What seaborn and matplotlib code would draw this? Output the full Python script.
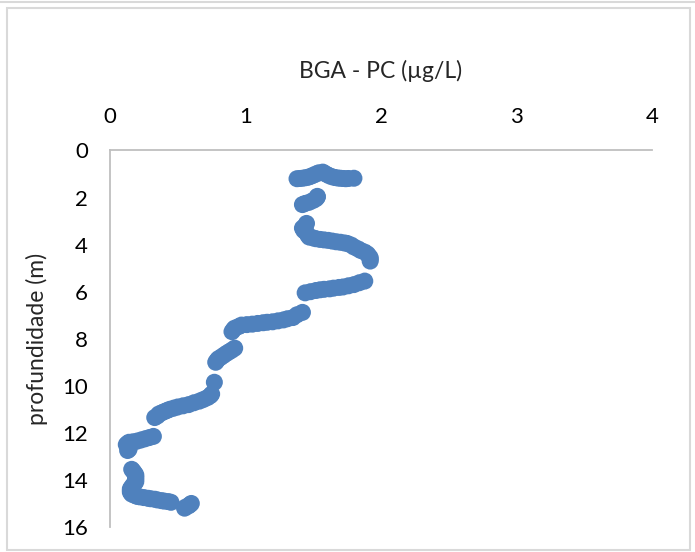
import matplotlib
matplotlib.use("Agg")
import matplotlib.pyplot as plt
import seaborn as sns
import pandas as pd
from matplotlib.patches import Rectangle
from matplotlib.lines import Line2D

# Phycocyanin (BGA-PC) profile, µg/L, against depth in metres
depth_m = [
    1.20, 1.19, 1.18, 1.16, 1.14, 1.10, 1.05, 1.00, 0.95, 0.92, 0.96, 1.02,
    1.08, 1.12, 1.15, 1.17, 1.18, 1.19, 1.20, 1.19, 1.18,
    2.30, 2.25, 2.20, 2.12, 2.05, 1.98, 1.95,
    3.10, 3.20, 3.30, 3.40, 3.50, 3.60, 3.68, 3.72, 3.75, 3.78, 3.80, 3.82,
    3.85, 3.88, 3.90, 3.93, 3.95, 4.02, 4.10, 4.18, 4.25, 4.32, 4.40, 4.48,
    4.55, 4.62, 4.70,
    6.05, 6.00, 5.95, 5.92, 5.90, 5.88, 5.85, 5.82, 5.80, 5.75, 5.70, 5.62, 5.55,
    6.88, 6.98, 7.10, 7.15, 7.20, 7.24, 7.28, 7.30, 7.32, 7.35, 7.38, 7.40,
    7.42, 7.48, 7.55, 7.62, 7.70,
    8.40, 8.48, 8.55, 8.62, 8.70, 8.78, 8.85, 8.92, 9.00,
    9.85,
    10.35, 10.42, 10.50, 10.58, 10.65, 10.72, 10.80, 10.85, 10.90, 10.95,
    11.00, 11.05, 11.10, 11.15, 11.20, 11.28, 11.35,
    12.15, 12.20, 12.25, 12.30, 12.35, 12.38, 12.40, 12.45, 12.50, 12.58,
    12.65, 12.70, 12.75,
    13.55, 13.62, 13.70, 13.78, 13.85, 13.92, 14.00, 14.08, 14.15, 14.22,
    14.30, 14.38, 14.45, 14.52, 14.60, 14.65, 14.70, 14.72, 14.75, 14.78,
    14.80, 14.82, 14.85, 14.88, 14.90, 14.92, 14.95,
    15.20, 15.15, 15.10, 15.05, 15.00,
]
bga_pc = [
    1.38, 1.40, 1.42, 1.44, 1.46, 1.48, 1.50, 1.52, 1.54, 1.57, 1.58, 1.60,
    1.62, 1.64, 1.66, 1.68, 1.70, 1.72, 1.74, 1.76, 1.80,
    1.42, 1.44, 1.47, 1.50, 1.52, 1.53, 1.53,
    1.45, 1.44, 1.42, 1.43, 1.45, 1.46, 1.47, 1.50, 1.52, 1.55, 1.58, 1.61,
    1.64, 1.67, 1.70, 1.73, 1.75, 1.78, 1.80, 1.83, 1.85, 1.88, 1.90, 1.91,
    1.92, 1.92, 1.92,
    1.44, 1.48, 1.52, 1.55, 1.58, 1.62, 1.65, 1.69, 1.72, 1.76, 1.80, 1.84, 1.88,
    1.42, 1.38, 1.35, 1.31, 1.28, 1.24, 1.20, 1.16, 1.13, 1.09, 1.05, 1.01,
    0.97, 0.95, 0.92, 0.91, 0.90,
    0.92, 0.90, 0.88, 0.86, 0.84, 0.82, 0.80, 0.79, 0.78,
    0.77,
    0.75, 0.74, 0.72, 0.69, 0.66, 0.62, 0.58, 0.54, 0.50, 0.47,
    0.44, 0.42, 0.40, 0.38, 0.36, 0.35, 0.33,
    0.32, 0.29, 0.26, 0.23, 0.20, 0.17, 0.14, 0.13, 0.12, 0.13,
    0.14, 0.14, 0.13,
    0.16, 0.17, 0.18, 0.19, 0.19, 0.19, 0.19, 0.19, 0.18, 0.17,
    0.16, 0.15, 0.15, 0.15, 0.16, 0.18, 0.20, 0.22, 0.25, 0.28,
    0.30, 0.33, 0.35, 0.38, 0.40, 0.43, 0.45,
    0.55, 0.56, 0.58, 0.59, 0.60,
]
x_ticks = [0, 1, 2, 3, 4]
y_ticks = [0, 2, 4, 6, 8, 10, 12, 14, 16]

df = pd.DataFrame({"BGA - PC (µg/L)": bga_pc, "profundidade (m)": depth_m})

sns.set_style("white")
plt.rcParams["font.family"] = ["Lato", "DejaVu Sans"]

fig = plt.figure(figsize=(6.95, 5.52), dpi=100)
ax = fig.add_axes([0.1583, 0.0453, 0.7799, 0.6821])

sns.scatterplot(data=df, x="BGA - PC (µg/L)", y="profundidade (m)", ax=ax,
                color="#4F81BD", s=150, edgecolor="none", zorder=3)

ax.set_xlim(0, 4)
ax.set_ylim(16, 0)
ax.set_xticks(x_ticks)
ax.set_yticks(y_ticks)
ax.xaxis.tick_top()
ax.xaxis.set_label_position("top")
ax.tick_params(axis="both", length=0, labelsize=16, colors="#000000")
ax.tick_params(axis="x", pad=17)
ax.tick_params(axis="y", pad=16)
ax.set_xlabel("BGA - PC (µg/L)", fontsize=16.5, labelpad=21)
ax.set_ylabel("profundidade (m)", fontsize=16.5, labelpad=10)

for side in ("right", "bottom"):
    ax.spines[side].set_visible(False)
for side in ("top", "left"):
    ax.spines[side].set_color("#BFBFBF")
    ax.spines[side].set_linewidth(1.3)

# chart-area frame
fig.patches.append(Rectangle((7 / 695, 2 / 552), 683 / 695, 542 / 552,
                             transform=fig.transFigure, fill=False,
                             edgecolor="#D9D9D9", linewidth=1.5))
fig.lines.append(Line2D([0, 1], [1 - 2 / 552, 1 - 2 / 552],
                        transform=fig.transFigure, color="#D9D9D9", linewidth=1.5))

fig.savefig("out.png", dpi=100)
